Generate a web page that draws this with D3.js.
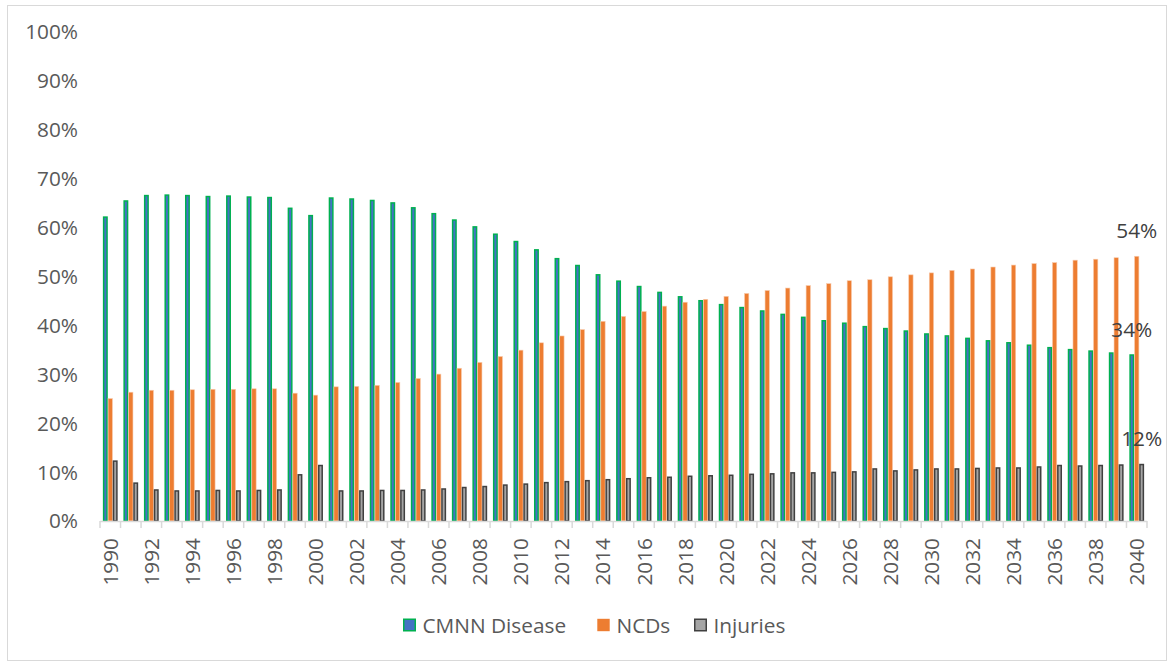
<!DOCTYPE html>
<html>
<head>
<meta charset="utf-8">
<script src="https://cdn.jsdelivr.net/npm/d3@7"></script>
<style>
  html, body { margin: 0; padding: 0; background: #fff; }
  svg { display: block; font-family: "Open Sans", sans-serif; }
</style>
</head>
<body>
<svg id="chart" width="1173" height="663"></svg>
<script>
// Share of burden by cause group, 1990–2040 (percent)
const years = d3.range(1990, 2041);
const cmnn = [62.3, 65.6, 66.7, 66.8, 66.7, 66.5, 66.6, 66.4, 66.3, 64.1,
              62.6, 66.2, 66.0, 65.7, 65.2, 64.2, 63.0, 61.7, 60.3, 58.8,
              57.3, 55.6, 53.8, 52.4, 50.5, 49.2, 48.1, 46.9, 46.0, 45.2,
              44.4, 43.8, 43.1, 42.4, 41.8, 41.1, 40.6, 39.9, 39.5, 39.0,
              38.4, 38.0, 37.5, 37.0, 36.6, 36.1, 35.6, 35.2, 34.9, 34.5,
              34.1];
const ncds = [25.1, 26.4, 26.8, 26.8, 26.9, 27.0, 27.0, 27.1, 27.1, 26.2,
              25.8, 27.5, 27.6, 27.8, 28.4, 29.2, 30.1, 31.3, 32.5, 33.7,
              35.0, 36.5, 37.9, 39.2, 40.9, 41.9, 42.9, 44.0, 44.8, 45.4,
              46.0, 46.6, 47.2, 47.7, 48.2, 48.6, 49.2, 49.4, 50.0, 50.4,
              50.8, 51.3, 51.6, 52.0, 52.4, 52.7, 52.9, 53.4, 53.6, 53.9,
              54.2];
const injuries = [12.4, 7.9, 6.5, 6.3, 6.3, 6.4, 6.3, 6.4, 6.5, 9.6,
                  11.5, 6.3, 6.3, 6.4, 6.4, 6.5, 6.7, 7.0, 7.2, 7.5,
                  7.7, 8.0, 8.2, 8.4, 8.6, 8.8, 9.0, 9.1, 9.3, 9.4,
                  9.5, 9.7, 9.8, 10.0, 10.0, 10.1, 10.2, 10.8, 10.4, 10.6,
                  10.8, 10.8, 10.9, 11.0, 11.0, 11.2, 11.5, 11.4, 11.5, 11.6,
                  11.7];
const seriesNames = ["CMNN Disease", "NCDs", "Injuries"];
const yTicks = [0, 10, 20, 30, 40, 50, 60, 70, 80, 90, 100];
const endLabels = ["34%", "54%", "12%"];

const styles = {
  "CMNN Disease": { fill: "#4472C4", stroke: "#00B050", sw: 1.5 },
  "NCDs":         { fill: "#ED7D31", stroke: "#F8CBAD", sw: 0.6 },
  "Injuries":     { fill: "#A5A5A5", stroke: "#404040", sw: 1.5 }
};
const valuesBySeries = { "CMNN Disease": cmnn, "NCDs": ncds, "Injuries": injuries };
const fontSize = "20.8px";

const svg = d3.select("#chart");

// outer chart frame
svg.append("rect")
  .attr("x", 7.5).attr("y", 5.5)
  .attr("width", 1159).attr("height", 655)
  .attr("fill", "#fff").attr("stroke", "#d9d9d9").attr("stroke-width", 1);

const plot = { left: 100, right: 1147, top: 32, bottom: 521 };

const x = d3.scaleBand().domain(years).range([plot.left, plot.right]).padding(0);
const bw = x.bandwidth();
const xInner = d3.scaleBand().domain(seriesNames)
  .range([bw * 0.14, bw * 0.86]).padding(0);
const y = d3.scaleLinear().domain([0, 100]).range([plot.bottom, plot.top]);

// y tick labels
svg.append("g").selectAll("text").data(yTicks).join("text")
  .attr("x", 78).attr("y", d => y(d))
  .attr("dy", "0.36em")
  .attr("text-anchor", "end")
  .attr("fill", "#595959")
  .attr("font-size", fontSize)
  .text(d => d + "%");

// bars
const groups = svg.append("g").selectAll("g").data(years).join("g")
  .attr("transform", d => `translate(${x(d)},0)`);

seriesNames.forEach(name => {
  const st = styles[name];
  const vals = valuesBySeries[name];
  groups.append("rect")
    .attr("x", (d, i) => xInner(name) + st.sw / 2)
    .attr("width", xInner.bandwidth() - st.sw)
    .attr("y", (d, i) => y(vals[i]) + st.sw / 2)
    .attr("height", (d, i) => Math.max(0, y(0) - y(vals[i]) - st.sw / 2))
    .attr("fill", st.fill)
    .attr("stroke", st.stroke)
    .attr("stroke-width", st.sw);
});

// x axis line and boundary ticks
const axis = svg.append("g");
axis.append("line")
  .attr("x1", plot.left).attr("x2", plot.right)
  .attr("y1", plot.bottom + 0.5).attr("y2", plot.bottom + 0.5)
  .attr("stroke", "#d9d9d9").attr("stroke-width", 1.5);
axis.selectAll("line.tk").data(years.concat([null])).join("line")
  .attr("class", "tk")
  .attr("x1", (d, i) => plot.left + i * bw)
  .attr("x2", (d, i) => plot.left + i * bw)
  .attr("y1", plot.bottom).attr("y2", plot.bottom + 7)
  .attr("stroke", "#d9d9d9").attr("stroke-width", 1.5);

// rotated year labels, every second year
axis.selectAll("text").data(years.filter(d => (d - 1990) % 2 === 0)).join("text")
  .attr("transform", d => `translate(${x(d) + bw / 2},538) rotate(-90)`)
  .attr("dy", "0.36em")
  .attr("text-anchor", "end")
  .attr("fill", "#595959")
  .attr("font-size", fontSize)
  .text(d => d);

// value labels on the final year
const last = years.length - 1;
const lastYear = years[last];
svg.append("g").selectAll("text").data(seriesNames).join("text")
  .attr("x", d => x(lastYear) + xInner(d) + xInner.bandwidth() / 2)
  .attr("y", d => y(valuesBySeries[d][last]) - 25)
  .attr("dy", "0.36em")
  .attr("text-anchor", "middle")
  .attr("fill", "#404040")
  .attr("font-size", fontSize)
  .text((d, i) => endLabels[i]);

// legend
const legendItems = [
  { name: "CMNN Disease", x: 403 },
  { name: "NCDs", x: 597 },
  { name: "Injuries", x: 694 }
];
const lg = svg.append("g").selectAll("g").data(legendItems).join("g")
  .attr("transform", d => `translate(${d.x},625)`);
lg.append("rect")
  .attr("x", d => styles[d.name].sw / 2).attr("y", d => -6.5 + styles[d.name].sw / 2)
  .attr("width", d => 13 - styles[d.name].sw).attr("height", d => 13 - styles[d.name].sw)
  .attr("fill", d => styles[d.name].fill)
  .attr("stroke", d => d.name === "NCDs" ? "none" : styles[d.name].stroke)
  .attr("stroke-width", d => styles[d.name].sw);
lg.append("text")
  .attr("x", 19.5).attr("y", 0).attr("dy", "0.36em")
  .attr("fill", "#595959")
  .attr("font-size", fontSize)
  .text(d => d.name);
</script>
</body>
</html>
